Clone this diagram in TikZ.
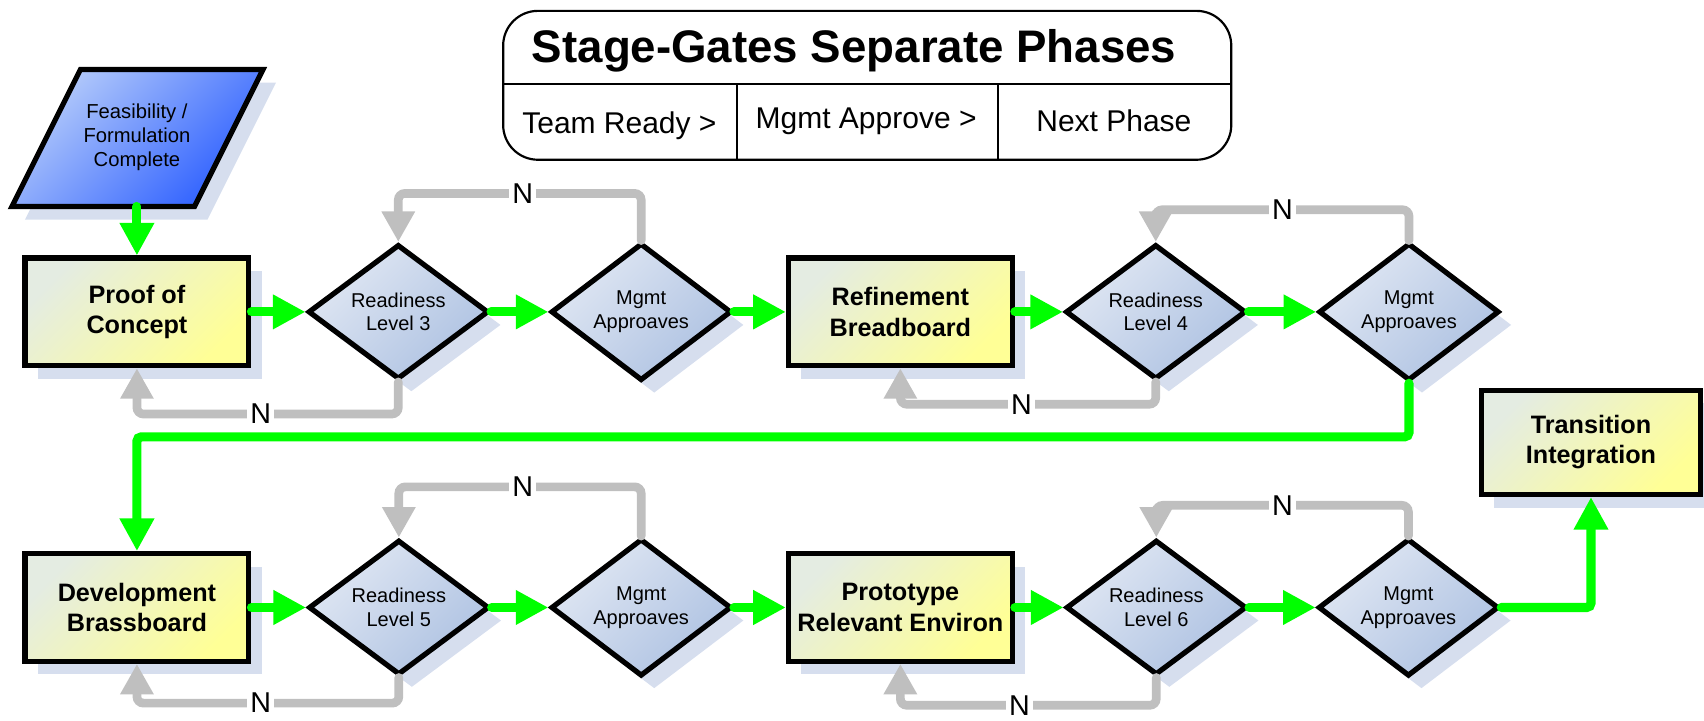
\documentclass[tikz,border=0pt]{standalone}
\usepackage{fontspec}
\setmainfont{Liberation Sans}
\usetikzlibrary{arrows.meta,shapes.geometric,shadows}
\definecolor{grn}{RGB}{0,255,0}
\definecolor{gry}{RGB}{191,191,191}
\definecolor{shdc}{RGB}{214,222,238}
\definecolor{ylw}{RGB}{255,255,150}
\definecolor{ylwpale}{RGB}{228,236,226}
\definecolor{dia1}{RGB}{224,231,243}
\definecolor{dia2}{RGB}{174,194,226}
\definecolor{blu1}{RGB}{182,204,250}
\definecolor{blu2}{RGB}{45,95,255}
\begin{document}
\begin{tikzpicture}[x=0.5pt,y=-0.5pt,
  shd/.style={general shadow={fill=shdc, shadow xshift=6pt, shadow yshift=-6pt}},
  stagebox/.style={draw=black, line width=2.4pt, shd, top color=ylwpale, bottom color=ylw, shading angle=45,
    minimum width=103pt, minimum height=49.5pt, inner sep=0pt, align=center,
    font=\fontsize{11.6}{14}\selectfont\bfseries},
  gate/.style={diamond, draw=black, line width=2.4pt, shd, top color=dia1, bottom color=dia2, shading angle=45,
    minimum width=83pt, minimum height=62pt, inner sep=0pt, align=center,
    font=\fontsize{9.2}{11}\selectfont},
  go/.style={draw=grn, line width=4.2pt, line cap=round, rounded corners=2pt, -{Triangle[length=15pt,width=15pt]}},
  back/.style={draw=gry, line width=4pt, line cap=round, rounded corners=3pt, -{Triangle[length=14pt,width=14.5pt]}},
  nlbl/.style={fill=white, inner sep=1.5pt, font=\fontsize{13.2}{14}\selectfont},
  hdr/.style={anchor=base, font=\fontsize{13.8}{16}\selectfont}
]
\useasboundingbox (0,0) rectangle (1568,663);

% title panel
\draw[line width=1pt, rounded corners=16pt, fill=white] (463,10) rectangle (1133,147);
\draw[line width=1pt] (463,77) -- (1133,77) (678,77) -- (678,147) (918,77) -- (918,147);
\node[anchor=base, font=\fontsize{21}{24}\selectfont\bfseries] (ttl) at (786,57.7) {Stage-Gates Separate Phases};
\node[hdr] (h1) at (570,122.7) {Team Ready >};
\node[hdr] (h2) at (797,118) {Mgmt Approve >};
\node[hdr] (h3) at (1025,121) {Next Phase};

% start parallelogram
\draw[draw=black, line width=2.4pt, shd, top color=blu1, bottom color=blu2, shading angle=45]
  (74,64) -- (242,64) -- (179,190) -- (11,190) -- cycle;
\node[align=center, font=\fontsize{9.3}{11}\selectfont] (feas) at (126,126) {Feasibility /\\Formulation\\Complete};
\coordinate (feasb) at (126,190);

% row 1
\node[stagebox] (proof) at (126,287) {Proof of\\Concept};
\node[gate] (r3) at (366.5,287) {Readiness\\Level 3};
\node[gate] (m1) at (590,287) {Mgmt\\Approaves};
\node[stagebox] (refine) at (828.5,287) {Refinement\\Breadboard};
\node[gate] (r4) at (1063.5,287) {Readiness\\Level 4};
\node[gate] (m2) at (1296.5,287) {Mgmt\\Approaves};

% row 2
\node[stagebox] (dev) at (126,559) {Development\\Brassboard};
\node[gate] (r5) at (367,559) {Readiness\\Level 5};
\node[gate] (m3) at (590,559) {Mgmt\\Approaves};
\node[stagebox] (proto) at (828.5,559) {Prototype\\Relevant Environ};
\node[gate] (r6) at (1064,559) {Readiness\\Level 6};
\node[gate] (m4) at (1296,559) {Mgmt\\Approaves};

\node[stagebox, minimum width=101pt, minimum height=48pt] (trans) at (1464,407) {Transition\\Integration};

% level coordinates
\coordinate (ya) at (0,178);
\coordinate (yb) at (0,381);
\coordinate (yc) at (0,193);
\coordinate (yd) at (0,372);
\coordinate (yg) at (0,402);
\coordinate (ye) at (0,448);
\coordinate (yf) at (0,647);
\coordinate (yh) at (0,465);
\coordinate (yi) at (0,649);

% gray feedback loops
\draw[back] (m1.north) -- (m1.north |- ya) -| (r3.north);
\draw[back] (r3.south) -- (r3.south |- yb) -| (proof.south);
\draw[back] (m2.north) -- (m2.north |- yc) -| (r4.north);
\draw[back] (r4.south) -- (r4.south |- yd) -| (refine.south);
\draw[back] (m3.north) -- (m3.north |- ye) -| (r5.north);
\draw[back] (r5.south) -- (r5.south |- yf) -| (dev.south);
\draw[back] (m4.north) -- (m4.north |- yh) -| (r6.north);
\draw[back] (r6.south) -- (r6.south |- yi) -| (proto.south);

\node[nlbl] (n1) at (481,178) {N};
\node[nlbl] (n2) at (240,381) {N};
\node[nlbl] (n3) at (1180,193) {N};
\node[nlbl] (n4) at (940,372) {N};
\node[nlbl] (n5) at (481,448) {N};
\node[nlbl] (n6) at (240,647) {N};
\node[nlbl] (n7) at (1180,465) {N};
\node[nlbl] (n8) at (938,649) {N};

% green flow
\draw[go] (feasb) -- (proof.north);
\draw[go] (proof.east) -- (r3.west);
\draw[go] (r3.east) -- (m1.west);
\draw[go] (m1.east) -- (refine.west);
\draw[go] (refine.east) -- (r4.west);
\draw[go] (r4.east) -- (m2.west);
\draw[go] (m2.south) -- (m2.south |- yg) -| (dev.north);
\draw[go] (dev.east) -- (r5.west);
\draw[go] (r5.east) -- (m3.west);
\draw[go] (m3.east) -- (proto.west);
\draw[go] (proto.east) -- (r6.west);
\draw[go] (r6.east) -- (m4.west);
\draw[go] (m4.east) -| (trans.south);
\end{tikzpicture}
\end{document}
